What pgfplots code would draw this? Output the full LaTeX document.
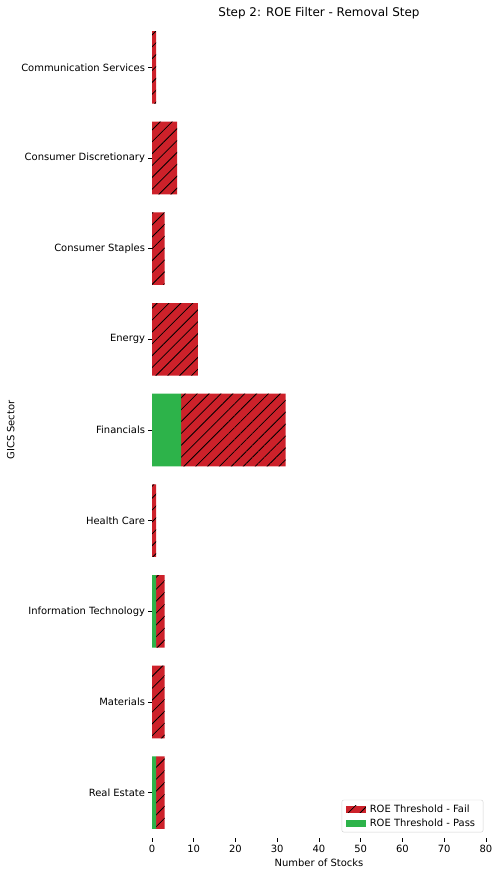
\documentclass[border=0pt]{standalone}
\usepackage{pgfplots}
\pgfplotsset{compat=1.18}
\usepackage{fontspec}
\setmainfont{DejaVu Sans}
\usetikzlibrary{patterns.meta}
\definecolor{failred}{RGB}{205,33,42}
\definecolor{passgreen}{RGB}{45,179,74}

\begin{document}
\begin{tikzpicture}
\path[use as bounding box] (0bp,0bp) rectangle (500bp,876bp);
\begin{axis}[
    at={(152bp,38bp)}, anchor=south west,
    scale only axis, width=334bp, height=816bp,
    xbar stacked, bar width=0.8,
    xmin=0, xmax=80, ymin=-0.5, ymax=8.5, y dir=reverse,
    ytick={0,...,8},
    yticklabels={Communication Services,Consumer Discretionary,Consumer Staples,Energy,Financials,Health Care,Information Technology,Materials,Real Estate},
    xtick={0,10,...,80},
    axis x line*=bottom, axis y line*=left,
    axis line style={draw=none},
    tick align=outside, major tick length=3.5bp,
    tick style={black, line width=0.6pt},
    ticklabel style={font=\fontsize{10}{12}\selectfont},
    /pgf/number format/assume math mode=true,
    xlabel={Number of Stocks}, ylabel={GICS Sector},
    label style={font=\fontsize{10}{12}\selectfont},
    title={Step 2: ROE Filter - Removal Step},
    every axis title shift=0pt,
    title style={font=\fontsize{12}{14}\selectfont, at={(0.5,1)}, anchor=south, yshift=-1bp},
    legend style={at={(0.992,0.007)}, anchor=south east, draw=gray!35, rounded corners=2pt,
        font=\fontsize{10}{12}\selectfont, row sep=1bp, inner xsep=4bp, inner ysep=2.5bp,
        nodes={inner xsep=4bp}},
    legend cell align=left,
    reverse legend,
    legend image code/.code={\path[#1, sharp corners] (0bp,-3.5bp) rectangle (20bp,3.5bp);},
]
\addplot[fill=passgreen, draw=none] coordinates {
    (0,0) (0,1) (0,2) (0,3) (7,4) (0,5) (1,6) (0,7) (1,8)
};
\addplot[fill=failred, draw=none,
    postaction={pattern={Lines[angle=45,distance=8.4bp,line width=0.8bp]}, pattern color=black}] coordinates {
    (1,0) (6,1) (3,2) (11,3) (25,4) (1,5) (2,6) (3,7) (2,8)
};
\legend{ROE Threshold - Pass, ROE Threshold - Fail}
\end{axis}
\end{tikzpicture}
\end{document}
